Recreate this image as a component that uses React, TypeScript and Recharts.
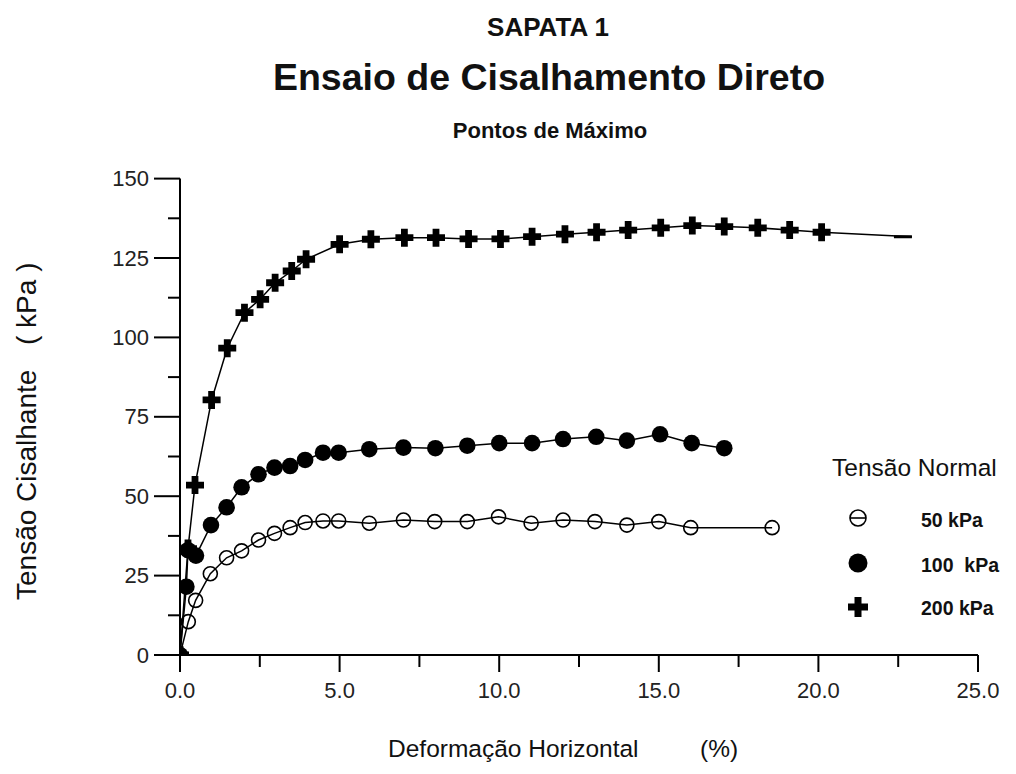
import React from 'react';
import { LineChart, Line, XAxis, YAxis } from 'recharts';

const FONT = '"Liberation Sans", Arial, Helvetica, sans-serif';

// 50 kPa
const x50 = [0, 0.26, 0.49, 0.95, 1.46, 1.93, 2.46, 2.96, 3.45, 3.92, 4.48, 4.97, 5.93, 7.0, 7.98, 9.0, 9.98, 11.0, 12.0, 13.0, 14.0, 15.0, 16.0, 18.55];
const y50 = [0, 10.5, 17.2, 25.6, 30.6, 32.8, 36.2, 38.3, 40.1, 41.7, 42.2, 42.2, 41.5, 42.5, 42.0, 42.0, 43.5, 41.5, 42.5, 42.0, 40.9, 42.0, 40.1, 40.1];
// 100 kPa
const x100 = [0, 0.2, 0.25, 0.5, 0.97, 1.46, 1.93, 2.46, 2.96, 3.45, 3.92, 4.48, 4.97, 5.93, 7.0, 8.0, 9.0, 10.0, 11.03, 12.0, 13.04, 14.0, 15.04, 16.03, 17.05];
const y100 = [0, 21.5, 33, 31.3, 40.9, 46.5, 52.8, 56.9, 59.0, 59.5, 61.4, 63.7, 63.7, 64.8, 65.3, 65.1, 65.9, 66.7, 66.7, 68.0, 68.7, 67.5, 69.5, 66.7, 65.1];
// 200 kPa
const x200 = [0, 0.25, 0.47, 0.99, 1.48, 2.02, 2.51, 2.98, 3.5, 3.95, 5.0, 5.98, 7.03, 8.02, 9.04, 10.04, 11.03, 12.06, 13.05, 14.04, 15.06, 16.05, 17.05, 18.1, 19.1, 20.1, 22.93];
const y200 = [0, 33.5, 53.5, 80.3, 96.6, 107.8, 112.0, 117.2, 120.9, 124.6, 129.3, 130.9, 131.4, 131.4, 131.0, 131.0, 131.7, 132.5, 133.1, 133.8, 134.5, 135.2, 134.9, 134.5, 133.8, 133.1, 131.7];

const xTicks = [0, 2.5, 5, 7.5, 10, 12.5, 15, 17.5, 20, 22.5, 25];
const yTicks = [0, 12.5, 25, 37.5, 50, 62.5, 75, 87.5, 100, 112.5, 125, 137.5, 150];

const legendLabels = ['50 kPa', '100  kPa', '200 kPa'];

const toData = (xs: number[], ys: number[]) => xs.map((x, i) => ({ x, y: ys[i] }));
const d50 = toData(x50, y50);
const d100 = toData(x100, y100);
const d200 = toData(x200, y200);

const crossPath = (cx: number, cy: number, s = 9, t = 3.4) =>
  `M${cx - t},${cy - s} H${cx + t} V${cy - t} H${cx + s} V${cy + t} H${cx + t} V${cy + s} H${cx - t} V${cy + t} H${cx - s} V${cy - t} H${cx - t} Z`;

const OpenDot = (p: any) => {
  if (p.cx == null) return <g />;
  return <circle cx={p.cx} cy={p.cy} r={7} fill="none" stroke="#000" strokeWidth={1.6} />;
};
const FilledDot = (p: any) => {
  if (p.cx == null) return <g />;
  return <circle cx={p.cx} cy={p.cy} r={8.3} fill="#000" stroke="none" />;
};
const CrossDot = (p: any) => {
  if (p.cx == null) return <g />;
  if (p.index === x200.length - 1) {
    return <line x1={p.cx - 18} x2={p.cx} y1={p.cy} y2={p.cy} stroke="#000" strokeWidth={3} />;
  }
  return <path d={crossPath(p.cx, p.cy)} fill="#000" />;
};

const XTick = (p: any) => {
  const v = p.payload.value;
  const major = Math.abs(v % 5) < 1e-6;
  return (
    <g>
      <line x1={p.x} x2={p.x} y1={p.y} y2={p.y + (major ? 17 : 12)} stroke="#000" strokeWidth={2} />
      {major && (
        <text x={p.x} y={p.y + 35} textAnchor="middle" dominantBaseline="central" fontFamily={FONT} fontSize={22} fill="#222">
          {v.toFixed(1)}
        </text>
      )}
    </g>
  );
};

const YTick = (p: any) => {
  const v = p.payload.value;
  const major = Math.abs(v % 25) < 1e-6;
  return (
    <g>
      <line x1={p.x - (major ? 26 : 12)} x2={p.x} y1={p.y} y2={p.y} stroke="#000" strokeWidth={2} />
      {major && (
        <text x={p.x - 31} y={p.y} textAnchor="end" dominantBaseline="central" fontFamily={FONT} fontSize={22} fill="#222">
          {v}
        </text>
      )}
    </g>
  );
};

export default function App() {
  return (
    <div style={{ position: 'absolute', left: 0, top: 0, width: 1016, height: 774, background: '#fff' }}>
      <LineChart width={1016} height={774} margin={{ top: 178.6, right: 38, bottom: 59, left: 0 }}>
        <XAxis
          type="number"
          dataKey="x"
          domain={[0, 25]}
          ticks={xTicks}
          tick={(p: any) => <XTick {...p} />}
          tickSize={0}
          tickMargin={0}
          tickLine={false}
          axisLine={{ stroke: '#000', strokeWidth: 2 }}
          height={60}
          allowDataOverflow
          interval={0}
        />
        <YAxis
          type="number"
          domain={[0, 150]}
          ticks={yTicks}
          tick={(p: any) => <YTick {...p} />}
          tickSize={0}
          tickMargin={0}
          tickLine={false}
          axisLine={{ stroke: '#000', strokeWidth: 2 }}
          width={180}
          allowDataOverflow
          interval={0}
        />
        <Line data={d200} dataKey="y" type="linear" stroke="#000" strokeWidth={1.5} dot={(p: any) => <CrossDot key={'c' + p.index} {...p} />} activeDot={false} isAnimationActive={false} />
        <Line data={d50} dataKey="y" type="linear" stroke="#000" strokeWidth={1.5} dot={(p: any) => <OpenDot key={'o' + p.index} {...p} />} activeDot={false} isAnimationActive={false} />
        <Line data={d100} dataKey="y" type="linear" stroke="#000" strokeWidth={1.5} dot={(p: any) => <FilledDot key={'f' + p.index} {...p} />} activeDot={false} isAnimationActive={false} />
      </LineChart>
      <svg width={1016} height={774} style={{ position: 'absolute', left: 0, top: 0, pointerEvents: 'none' }}>
        <g fontFamily={FONT} fill="#111">
          <text x={548} y={27} textAnchor="middle" dominantBaseline="central" fontSize={26} fontWeight="bold">SAPATA 1</text>
          <text x={549} y={77} textAnchor="middle" dominantBaseline="central" fontSize={37.5} fontWeight="bold">Ensaio de Cisalhamento Direto</text>
          <text x={550} y={130} textAnchor="middle" dominantBaseline="central" fontSize={22} fontWeight="bold">Pontos de Máximo</text>
          <text x={388} y={748} dominantBaseline="central" fontSize={24.5}>Deformação Horizontal</text>
          <text x={700} y={748} dominantBaseline="central" fontSize={24.5}>(%)</text>
          <text transform="translate(26,600) rotate(-90)" x={0} y={0} dominantBaseline="central" fontSize={28}>Tensão Cisalhante</text>
          <text transform="translate(26,345) rotate(-90)" x={0} y={0} dominantBaseline="central" fontSize={28} style={{ whiteSpace: 'pre' }} xmlSpace="preserve">{'( kPa )'}</text>
          <text x={832} y={467} dominantBaseline="central" fontSize={24.5}>Tensão Normal</text>
          <text x={921} y={520} dominantBaseline="central" fontSize={19.5} fontWeight="bold" style={{ whiteSpace: 'pre' }} xmlSpace="preserve">{legendLabels[0]}</text>
          <text x={921} y={565} dominantBaseline="central" fontSize={19.5} fontWeight="bold" style={{ whiteSpace: 'pre' }} xmlSpace="preserve">{legendLabels[1]}</text>
          <text x={921} y={608} dominantBaseline="central" fontSize={19.5} fontWeight="bold" style={{ whiteSpace: 'pre' }} xmlSpace="preserve">{legendLabels[2]}</text>
        </g>
        <circle cx={858} cy={518} r={8} fill="none" stroke="#000" strokeWidth={1.6} />
        <line x1={850} x2={866} y1={518} y2={518} stroke="#000" strokeWidth={1.6} />
        <circle cx={858} cy={563} r={9.5} fill="#000" />
        <path d={crossPath(858, 607, 10, 3.5)} fill="#000" />
      </svg>
    </div>
  );
}
